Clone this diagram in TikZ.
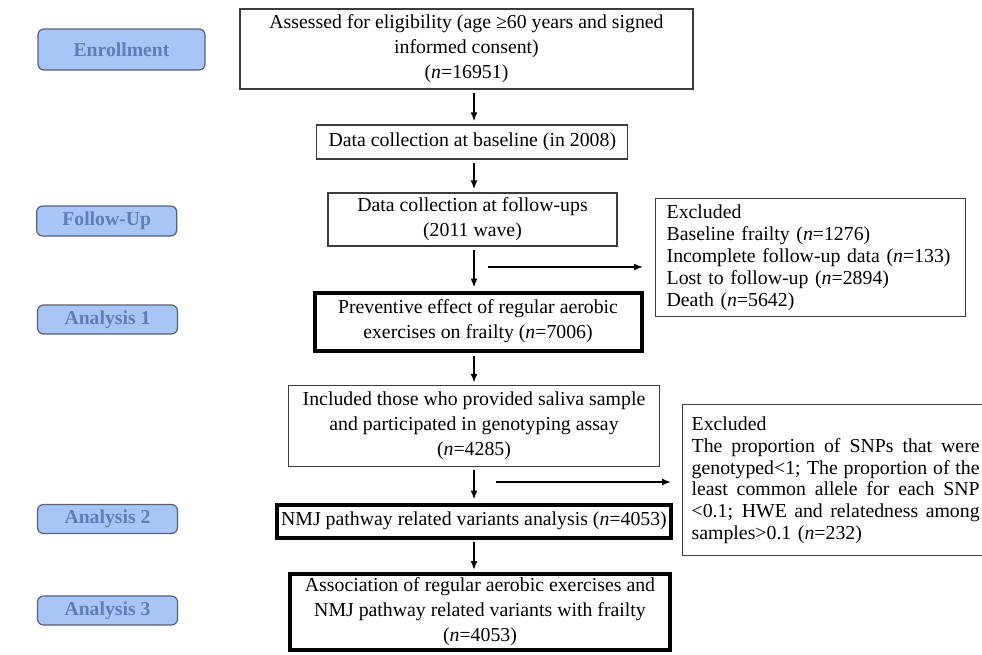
\documentclass[tikz,border=0pt]{standalone}
\usepackage{fontspec}
\setmainfont{Liberation Serif}
\usetikzlibrary{arrows.meta}
\definecolor{lblfill}{RGB}{168,197,248}
\definecolor{lbltext}{RGB}{96,126,182}
\definecolor{lbldraw}{RGB}{88,98,118}
\definecolor{boxdraw}{RGB}{60,60,60}
\newcommand\jline[1]{\leavevmode\hbox to 288pt{\spaceskip=0.25em plus 1fil minus 0.15em\relax #1}}
\begin{document}
\begin{tikzpicture}[x=1pt,y=-1pt,
  lbl/.style={draw=lbldraw, fill=lblfill, line width=1.2pt, rounded corners=6pt,
    text=lbltext, font=\fontsize{19.7}{22}\selectfont\bfseries, inner sep=0pt},
  box/.style={draw=boxdraw, line width=1.3pt, align=center, inner sep=0pt,
    font=\fontsize{19.8}{25}\selectfont},
  tbox/.style={box, draw=black, line width=4pt},
  exbox/.style={draw=boxdraw, line width=1.3pt, align=left, inner ysep=0pt,
    font=\fontsize{19.8}{21.8}\selectfont},
  arr/.style={-{Latex[length=9pt,width=7pt]}, line width=1.7pt, black}
]
\useasboundingbox (0,0) rectangle (982,654);
\clip (0,0) rectangle (982,654);
\fill[white] (0,0) rectangle (982,654);

% stage labels
\node[lbl, minimum width=167, minimum height=41] (l1) at (121.5,49.5) {Enrollment};
\node[lbl, minimum width=140, minimum height=30] (l2) at (106.7,221) {Follow-Up};
\node[lbl, minimum width=140, minimum height=29] (l3) at (107.5,319.5) {Analysis 1};
\node[lbl, minimum width=140, minimum height=29] (l4) at (107.5,519) {Analysis 2};
\node[lbl, minimum width=140, minimum height=29] (l5) at (107.5,610.5) {Analysis 3};

% main boxes
\node[box, minimum width=453, minimum height=80] (b1) at (466.5,49)
  {Assessed for eligibility (age ≥60 years and signed\\informed consent)\\(\textit{n}=16951)};
\node[box, minimum width=311, minimum height=34] (b2) at (472.3,142)
  {Data collection at baseline (in 2008)};
\node[box, minimum width=289, minimum height=53] (b3) at (472.5,219.5)
  {Data collection at follow-ups\\(2011 wave)};
\node[tbox, minimum width=327, minimum height=58] (b4) at (478,321.5)
  {Preventive effect of regular aerobic\\exercises on frailty (\textit{n}=7006)};
\node[box, minimum width=371, minimum height=81] (b5) at (474,426)
  {Included those who provided saliva sample\\and participated in genotyping assay\\(\textit{n}=4285)};
\node[tbox, minimum width=394, minimum height=33] (b6) at (474,521)
  {NMJ pathway related variants analysis (\textit{n}=4053)};
\node[tbox, minimum width=380, minimum height=76] (b7) at (480,612)
  {Association of regular aerobic exercises and\\NMJ pathway related variants with frailty\\(\textit{n}=4053)};

% exclusion boxes
\node[exbox, inner xsep=11pt, minimum height=118, anchor=north west, text width=288] (e1) at (655,198)
  {Excluded\\Baseline frailty (\textit{n}=1276)\\Incomplete follow-up data (\textit{n}=133)\\Lost to follow-up (\textit{n}=2894)\\Death (\textit{n}=5642)};
\node[exbox, inner xsep=9pt, minimum height=151, anchor=north west, text width=288] (e2) at (682,404)
  {Excluded\\
   \jline{The proportion of SNPs that were}\\
   \jline{genotyped<1; The proportion of the}\\
   \jline{least common allele for each SNP}\\
   \jline{<0.1; HWE and relatedness among}\\
   samples>0.1 (\textit{n}=232)};

% connectors
\coordinate (col) at (474,0);
\draw[arr, shorten <=3pt, shorten >=3pt] (b1.south -| col) -- (b2.north -| col);
\draw[arr, shorten <=3pt, shorten >=3pt] (b2.south -| col) -- (b3.north -| col);
\draw[arr, shorten <=3pt, shorten >=3pt] (b3.south -| col) -- (b4.north -| col);
\draw[arr, shorten <=3pt, shorten >=2pt] (b4.south -| col) -- (b5.north -| col);
\draw[arr, shorten <=3pt, shorten >=3pt] (b5.south -| col) -- (b6.north -| col);
\draw[arr, shorten <=2pt, shorten >=2pt] (b6.south -| col) -- (b7.north -| col);
\coordinate (h1) at (488,267);
\coordinate (h2) at (496,482);
\draw[arr, line width=1.5pt, shorten >=12pt] (h1) -- (h1 -| e1.west);
\draw[arr, line width=1.5pt, shorten >=11pt] (h2) -- (h2 -| e2.west);
\end{tikzpicture}
\end{document}
